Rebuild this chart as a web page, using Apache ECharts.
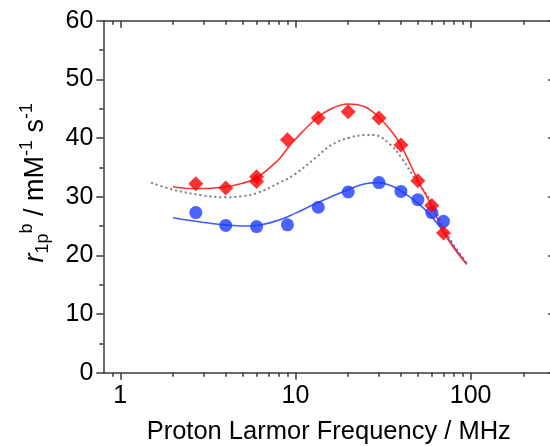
<!DOCTYPE html>
<html>
<head>
<meta charset="utf-8">
<script src="https://cdn.jsdelivr.net/npm/echarts@6/dist/echarts.min.js"></script>
<style>
  html, body { margin: 0; padding: 0; background: #fff; }
  #main { width: 550px; height: 446px; }
</style>
</head>
<body>
<div id="main"></div>
<script>
// measured points
var redFreq = [2.7, 4, 6, 6, 9, 13.5, 20, 30, 40, 50, 60, 70];
var redR1 = [32.2, 31.5, 33.4, 32.6, 39.7, 43.4, 44.5, 43.4, 38.8, 32.7, 28.5, 23.8];
var blueFreq = [2.7, 4, 6, 9, 13.5, 20, 30, 40, 50, 60, 70];
var blueR1 = [27.3, 25.1, 24.9, 25.2, 28.2, 30.8, 32.4, 30.9, 29.5, 27.3, 25.8];

// fitted curves
var redFitFreq = [2, 2.5, 3, 4, 5, 6, 8, 9, 10, 13, 16, 20, 25, 30, 35, 40, 50, 60, 70, 80, 95];
var redFitR1 = [31.7, 31.4, 31.4, 31.7, 32.3, 33.2, 36.3, 38.2, 39.8, 43.2, 45.0, 45.8, 45.3, 43.5, 41.3, 38.8, 32.8, 28.4, 24.1, 21.3, 18.5];
var blueFitFreq = [2, 3, 4, 5, 6, 8, 10, 13, 16, 20, 25, 30, 35, 40, 50, 60, 70, 80, 95];
var blueFitR1 = [26.4, 25.6, 25.2, 25.0, 25.1, 26.0, 27.2, 28.8, 30.0, 31.2, 32.2, 32.4, 31.9, 31.0, 28.9, 26.6, 24.0, 21.5, 18.5];
var grayFitFreq = [1.5, 2, 3, 4, 5, 6, 8, 10, 13, 16, 20, 25, 28, 35, 41, 48, 60, 70, 80, 97];
var grayFitR1 = [32.4, 31.2, 30.2, 29.9, 30.1, 30.6, 32.3, 33.9, 36.6, 38.8, 40.0, 40.5, 40.5, 38.8, 36.3, 33.1, 29.0, 24.8, 21.8, 18.3];

// axis ticks
var xMajor = [1, 10, 100];
var xMinor = [0.9, 2, 3, 4, 5, 6, 7, 8, 9, 20, 30, 40, 50, 60, 70, 80, 90, 200];

function pairs(xs, ys) {
  var out = [];
  for (var i = 0; i < xs.length; i++) {
    out.push([xs[i], ys[i]]);
  }
  return out;
}

var axisCol = '#3a3a3a';
var chart = echarts.init(document.getElementById('main'), null, { renderer: 'canvas' });

function xAxisDef(pos, major, withLine, inside) {
  return {
    type: 'log',
    logBase: 10,
    position: pos,
    min: 0.8,
    max: 300,
    axisLine: { show: withLine, onZero: false, lineStyle: { color: axisCol, width: 1.5 } },
    axisTick: {
      show: true,
      inside: inside,
      length: major ? 7 : 4,
      customValues: major ? xMajor : xMinor,
      lineStyle: { color: axisCol, width: 1.5 }
    },
    axisLabel: { show: false },
    splitLine: { show: false }
  };
}

var bottomMajor = xAxisDef('bottom', true, true, false);
bottomMajor.axisLabel = {
  show: true,
  customValues: xMajor,
  fontSize: 25,
  fontFamily: 'Liberation Sans',
  color: '#000',
  margin: 11,
  formatter: function (v) { return String(v); }
};
bottomMajor.name = 'Proton Larmor Frequency / MHz';
bottomMajor.nameLocation = 'middle';
bottomMajor.nameGap = 46;
bottomMajor.nameTextStyle = { fontSize: 25.5, fontFamily: 'Liberation Sans', color: '#000' };

var option = {
  animation: false,
  backgroundColor: '#fff',
  grid: { left: 103.3, right: -4.2, top: 20.7, bottom: 73.3, containLabel: false, outerBoundsMode: 'none' },
  xAxis: [
    bottomMajor,
    xAxisDef('bottom', false, false, false),
    xAxisDef('top', true, true, true),
    xAxisDef('top', false, false, true)
  ],
  yAxis: [
    {
      type: 'value',
      position: 'left',
      min: 0,
      max: 60,
      interval: 10,
      axisLine: { show: true, onZero: false, lineStyle: { color: axisCol, width: 1.5 } },
      axisTick: { show: true, length: 7, lineStyle: { color: axisCol, width: 1.5 } },
      minorTick: { show: true, splitNumber: 2, length: 4, lineStyle: { color: axisCol, width: 1.5 } },
      axisLabel: { fontSize: 25, fontFamily: 'Liberation Sans', color: '#000', margin: 10 },
      splitLine: { show: false },
      name: '{i|r}{sub|1p}{sup|b}{n| / mM}{sup|-1}{n| s}{sup|-1}',
      nameLocation: 'middle',
      nameRotate: 90,
      nameGap: 51,
      nameTextStyle: {
        padding: [0, 0, 0, 28],
        rich: {
          i: { fontSize: 27, fontStyle: 'italic', fontFamily: 'Liberation Sans', color: '#000', lineHeight: 34, verticalAlign: 'middle' },
          n: { fontSize: 27, fontFamily: 'Liberation Sans', color: '#000', lineHeight: 34, verticalAlign: 'middle' },
          sub: { fontSize: 18, fontFamily: 'Liberation Sans', color: '#000', lineHeight: 34, verticalAlign: 'bottom' },
          sup: { fontSize: 18, fontFamily: 'Liberation Sans', color: '#000', lineHeight: 34, verticalAlign: 'top' }
        }
      }
    },
    {
      type: 'value',
      position: 'right',
      min: 0,
      max: 60,
      interval: 10,
      axisLine: { show: true, onZero: false, lineStyle: { color: axisCol, width: 1.5 } },
      axisTick: { show: true, inside: true, length: 6, lineStyle: { color: axisCol, width: 1.5 } },
      axisLabel: { show: false },
      splitLine: { show: false }
    }
  ],
  series: [
    {
      type: 'line',
      data: pairs(grayFitFreq, grayFitR1),
      smooth: 0.4,
      showSymbol: false,
      lineStyle: { color: '#7a7a7a', width: 2, type: [2, 3] },
      z: 2
    },
    {
      type: 'line',
      data: pairs(blueFitFreq, blueFitR1),
      smooth: 0.4,
      showSymbol: false,
      lineStyle: { color: '#3b5cff', width: 1.6 },
      z: 2
    },
    {
      type: 'line',
      data: pairs(redFitFreq, redFitR1),
      smooth: 0.4,
      showSymbol: false,
      lineStyle: { color: '#ff3030', width: 1.6 },
      z: 2
    },
    {
      type: 'scatter',
      data: pairs(blueFreq, blueR1),
      symbol: 'circle',
      symbolSize: 13,
      itemStyle: { color: '#1f3dff' },
      z: 3
    },
    {
      type: 'scatter',
      data: pairs(redFreq, redR1),
      symbol: 'diamond',
      symbolSize: 15,
      itemStyle: { color: '#ff0000' },
      z: 4
    }
  ]
};

chart.setOption(option);
</script>
</body>
</html>
